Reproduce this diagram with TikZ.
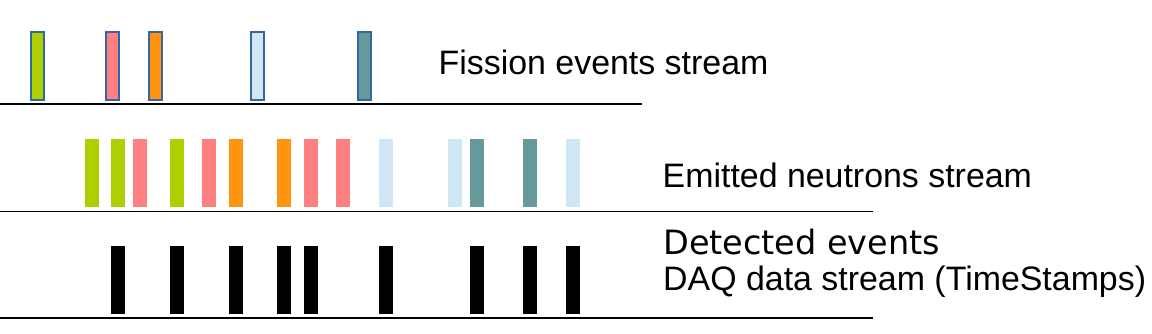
\documentclass[tikz,border=0pt]{standalone}
\usepackage{fontspec}
\setmainfont{Liberation Sans}
\newfontfamily\djvfont{DejaVu Sans}
\definecolor{evgreen}{HTML}{AECF00}
\definecolor{evpink}{HTML}{FF8080}
\definecolor{evorange}{HTML}{FF950E}
\definecolor{evpale}{HTML}{CFE7F5}
\definecolor{evteal}{HTML}{669999}
\definecolor{evborder}{HTML}{3465A4}

\begin{document}
\begin{tikzpicture}[
        x=1pt,y=-1pt,
        fisbar/.style={draw=evborder,line width=2pt},
        neubar/.style={line width=0pt},
        axis/.style={line width=1.5pt,black},
        streamlabel/.style={anchor=base west,inner sep=0pt,
                    font=\fontsize{33.9}{37}\selectfont}
      ]
        \useasboundingbox (0,0) rectangle (1152,333);
        % fission events
        \foreach \x/\c in {31/evgreen,106/evpink,149/evorange,251/evpale,358/evteal}
          \filldraw[fisbar,fill=\c] (\x,32) rectangle ++(13,68);
        \draw[axis] (0,104) -- (642,104);
        \node[streamlabel] (fis) at (438.5,74) {Fission events stream};
        % emitted neutrons
        \foreach \x/\c in {85/evgreen,111/evgreen,133/evpink,170/evgreen,202/evpink,
                           229/evorange,277/evorange,304/evpink,336/evpink,379/evpale,
                           448/evpale,470/evteal,523/evteal,566/evpale}
          \fill[neubar,\c] (\x,139) rectangle ++(13.5,68);
        \draw[axis] (0,211.5) -- (873,211.5);
        \node[streamlabel] (neu) at (662.5,187) {Emitted neutrons stream};
        % detected events
        \foreach \x in {111,170,229,277,304,379,470,523,566}
          \fill[black] (\x,246) rectangle ++(13.5,68);
        \draw[axis] (0,318) -- (873,318);
        \node[streamlabel,font=\djvfont\fontsize{33.5}{37}\selectfont] (det) at (663,254) {Detected events};
        \node[streamlabel] (daq) at (663,290) {DAQ data stream (TimeStamps)};
      \end{tikzpicture}
\end{document}
